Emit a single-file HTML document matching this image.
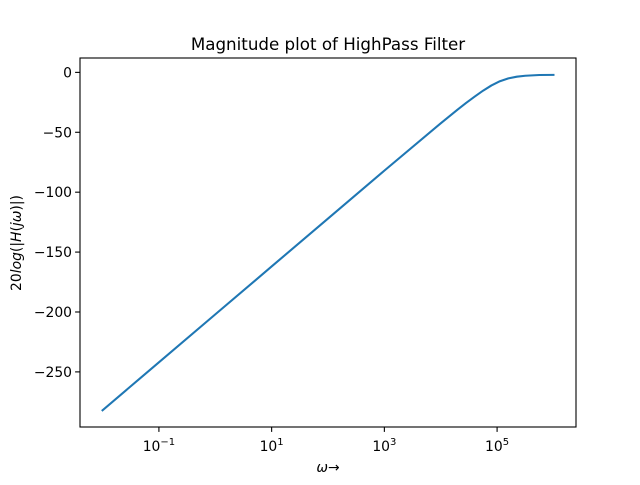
<!DOCTYPE html>
<html><head><meta charset="utf-8"><style>
body{margin:0;background:#fff;font-family:"Liberation Sans","DejaVu Sans",sans-serif;}
svg text{font-family:"DejaVu Sans","Liberation Sans",sans-serif;fill:#000;}
</style></head><body>
<svg id="chart" width="640" height="480" viewBox="0 0 640 480" xmlns="http://www.w3.org/2000/svg">
<rect width="640" height="480" fill="#fff"/>
<text x="328" y="50" text-anchor="middle" font-size="16.7">Magnitude plot of HighPass Filter</text>
<g id="plot"></g>
<text x="328" y="472" text-anchor="middle" font-size="13.9"><tspan font-style="italic">ω</tspan>→</text>
<text transform="translate(21,243) rotate(-90)" text-anchor="middle" font-size="13.9">20<tspan font-style="italic">log</tspan>(|<tspan font-style="italic">H</tspan>(<tspan font-style="italic">jω</tspan>)|)</text>
</svg>
<script>
const logOmega = [-2,-1,0,1,2,3,4,4.15,4.3,4.45,4.6,4.75,4.9,5.05,5.2,5.35,5.5,5.75,6];
const magDb = [-282,-242,-202,-162,-122,-82,-42.5,-36.8,-31,-25.5,-20.3,-15.3,-10.9,-7.4,-5,-3.6,-2.8,-2.2,-2.1];
const xTickExp = [-1,1,3,5];
const yTicks = [0,-50,-100,-150,-200,-250];
const L=80,R=576,T=58,B=427;
const xMin=-2.4,xMax=6.4,yMin=-296,yMax=12;
const sx=v=>L+(v-xMin)/(xMax-xMin)*(R-L);
const sy=v=>T+(yMax-v)/(yMax-yMin)*(B-T);
const NS="http://www.w3.org/2000/svg";
const g=document.getElementById('plot');
function el(tag,attrs){const e=document.createElementNS(NS,tag);for(const k in attrs)e.setAttribute(k,attrs[k]);g.appendChild(e);return e;}
let d='';
logOmega.forEach((v,i)=>{d+=(i?'L':'M')+sx(v).toFixed(2)+','+sy(magDb[i]).toFixed(2);});
const line=el('path',{d:d,fill:'none',stroke:'#1f77b4','stroke-width':2.08,'stroke-linejoin':'round','stroke-linecap':'square'});


const fr=el('rect',{x:L,y:T,width:R-L,height:B-T,fill:'none',stroke:'#000','stroke-width':1.1});


xTickExp.forEach(e=>{
 const x=sx(e);
 el('line',{x1:x,x2:x,y1:B,y2:B+4.9,stroke:'#000','stroke-width':1.1});
 const t=el('text',{x:x,y:B+24,'text-anchor':'middle','font-size':13.9});
 
 
 t.innerHTML='10<tspan dy="-6" font-size="10">'+(e<0?'−'+(-e):e)+'</tspan>';
});
yTicks.forEach(v=>{
 const y=sy(v);
 el('line',{x1:L-4.9,x2:L,y1:y,y2:y,stroke:'#000','stroke-width':1.1});
 const t=el('text',{x:L-8,y:y+5,'text-anchor':'end','font-size':13.9});
 
 
 t.textContent=v<0?'−'+(-v):String(v);
});
</script>
</body></html>
